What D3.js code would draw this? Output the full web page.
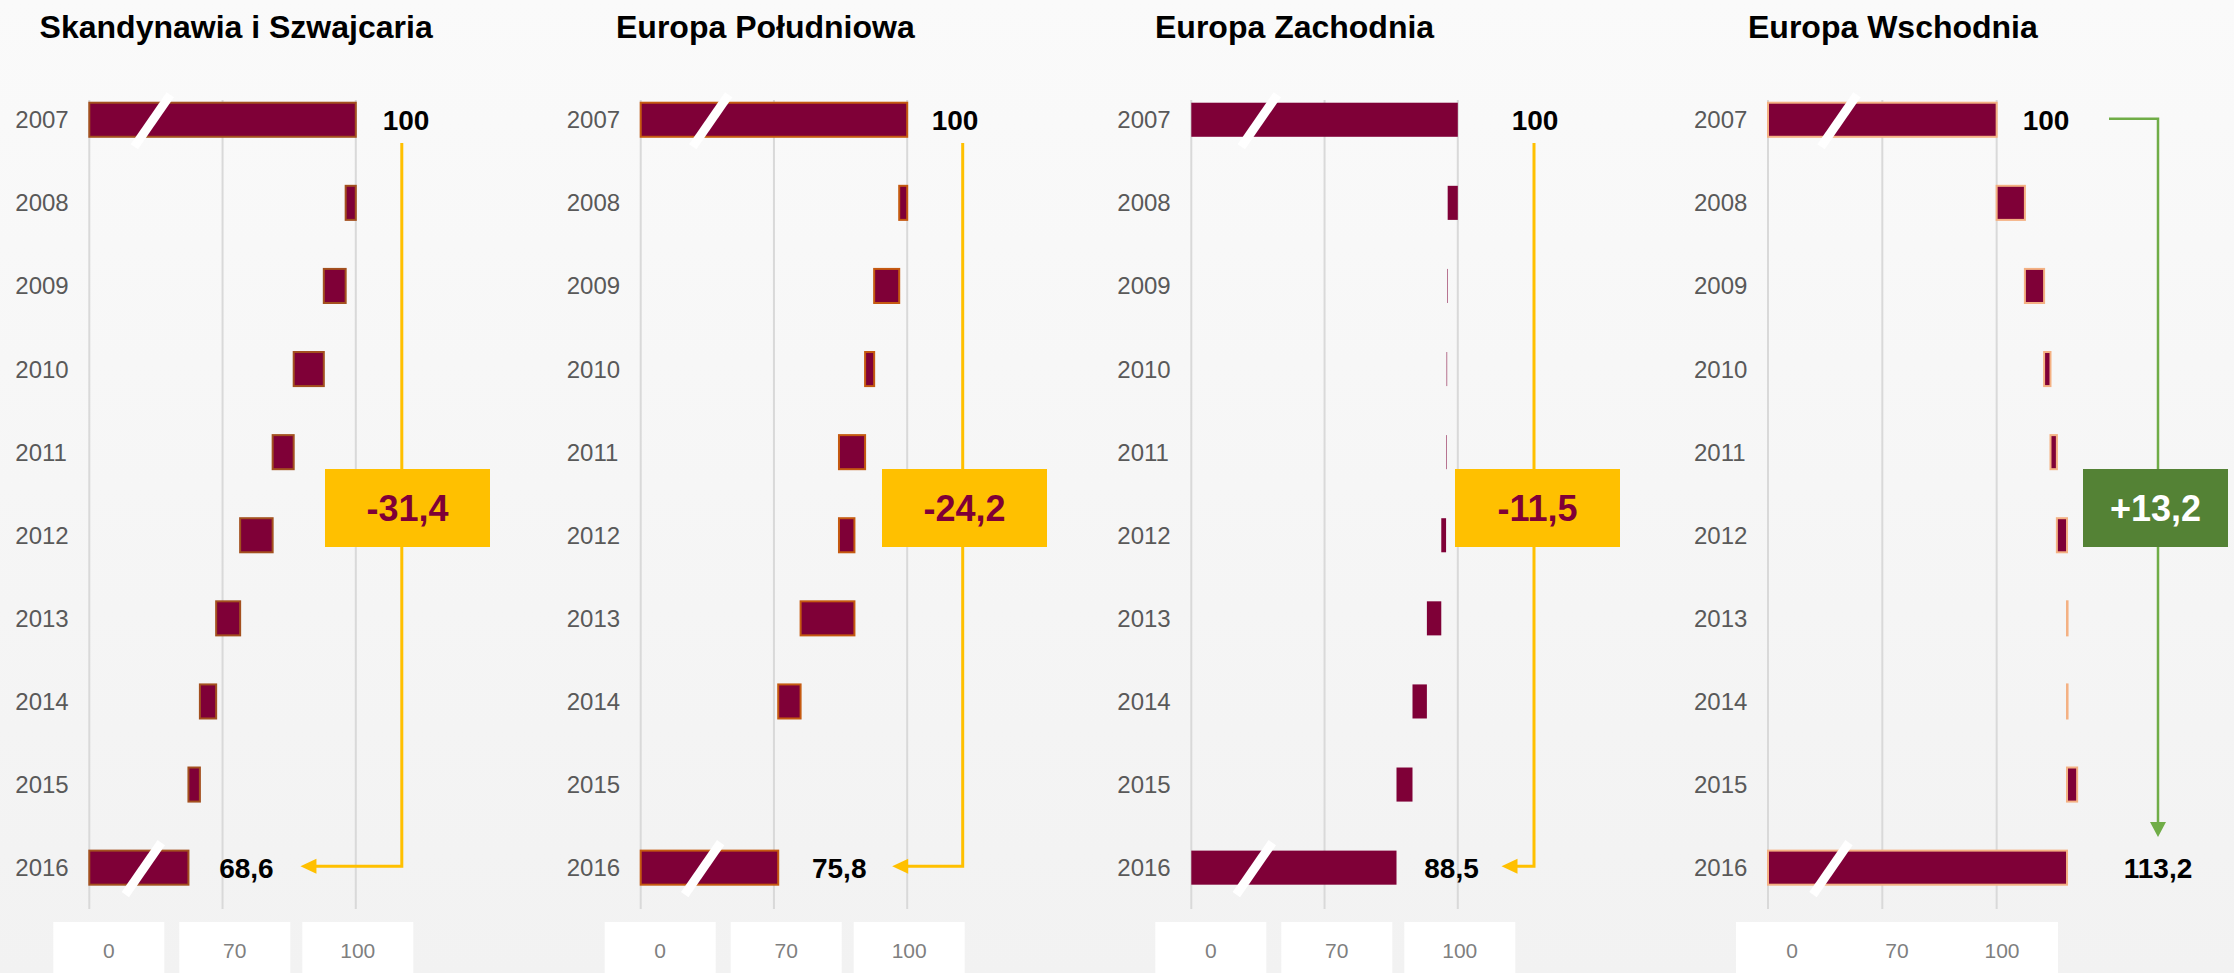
<!DOCTYPE html>
<html>
<head>
<meta charset="utf-8">
<script src="https://cdn.jsdelivr.net/npm/d3@7"></script>
<style>
  html, body { margin: 0; padding: 0; }
  body { width: 2234px; height: 973px; overflow: hidden; }
  svg { display: block; font-family: 'Liberation Sans', Arial, sans-serif; }
</style>
</head>
<body>
<svg id="chart" width="2234" height="973"></svg>
<script>
// index levels, 2007 = 100; last entry is the 2016 total bar
const years = ['2007', '2008', '2009', '2010', '2011', '2012', '2013', '2014', '2015', '2016']
const regions = ['Skandynawia i Szwajcaria', 'Europa Południowa', 'Europa Zachodnia', 'Europa Wschodnia']
const skandynawiaSzwajcaria = [100, 98.1, 94.0, 88.35, 84.4, 78.3, 73.8, 70.75, 68.6, 68.6]
const europaPoludniowa = [100, 98.5, 93.8, 92.1, 87.2, 90.1, 80.0, 75.8, 75.8, 75.8]
const europaZachodnia = [100, 98.1, 98.0, 97.9, 97.8, 96.9, 94.2, 91.5, 88.5, 88.5]
const europaWschodnia = [100, 105.3, 108.9, 110.1, 111.3, 113.2, 113.3, 113.2, 115.1, 113.2]
const tickLabels = ['0', '70', '100']

const maroon = '#7f0037'
const yellow = '#ffc000'
const pxPerUnit = 5.33

const pl = d3.formatLocale({ decimal: ',', thousands: ' ', grouping: [3], currency: ['', ' zł'], minus: '-' })
const fmtValue = pl.format('.1~f')
const fmtChange = v => (v > 0 ? '+' : '') + pl.format('.1f')(v)

// layout per panel (pixel positions only)
const panels = [
  { title: regions[0], values: skandynawiaSzwajcaria, x0: 89.3, axisMin: 50, titleX: 39.6,
    stroke: '#a3501f', color: yellow, lineX: 401.8, startLabelX: 406, boxCx: 407.5, boxW: 165,
    endLabelDx: 58, tipDx: 112, breaks: [63, 54], tickBoxes: [[-36, 111], [90, 111], [213, 111]], tickX: [19.5, 145.5, 268.5] },
  { title: regions[1], values: europaPoludniowa, x0: 640.7, axisMin: 50, titleX: 616,
    stroke: '#c55a11', color: yellow, lineX: 962.7, startLabelX: 955, boxCx: 964.5, boxW: 165,
    endLabelDx: 61, tipDx: 114, breaks: [70, 62], tickBoxes: [[-36, 111], [90, 111], [213, 111]], tickX: [19.5, 145.5, 268.5] },
  { title: regions[2], values: europaZachodnia, x0: 1191.3, axisMin: 50, titleX: 1155,
    stroke: maroon, color: yellow, lineX: 1534, startLabelX: 1535, boxCx: 1537.5, boxW: 165,
    endLabelDx: 55, tipDx: 105, breaks: [68, 63], tickBoxes: [[-36, 111], [90, 111], [213, 111]], tickX: [19.5, 145.5, 268.5] },
  { title: regions[3], values: europaWschodnia, x0: 1768, axisMin: 57.1, titleX: 1748,
    stroke: '#f4b183', color: '#70ad47', boxColor: '#548235', lineX: 2158, startLabelX: 2046, boxCx: 2155.5, boxW: 145,
    breaks: [71, 63], tickBoxes: [[-32, 322]], tickX: [24, 129, 234], down: true },
]

const svg = d3.select('#chart')

const grad = svg.append('defs').append('linearGradient')
  .attr('id', 'bg').attr('x1', 0).attr('y1', 0).attr('x2', 0).attr('y2', 1)
grad.append('stop').attr('offset', 0).attr('stop-color', '#fafafa')
grad.append('stop').attr('offset', 1).attr('stop-color', '#f2f2f2')
svg.append('rect').attr('width', 2234).attr('height', 973).attr('fill', 'url(#bg)')

const y = d3.scaleBand()
  .domain(years)
  .range([78.2, 909.2])
  .paddingInner(0.59)
  .paddingOuter(0.295)
const cy = yr => y(yr) + y.bandwidth() / 2

panels.forEach(p => {
  const { values, axisMin, x0 } = p
  const x = d3.scaleLinear()
    .domain([axisMin, 100])
    .range([x0, x0 + (100 - axisMin) * pxPerUnit])
  const g = svg.append('g')
  const last = values.length - 1

  g.append('text')
    .attr('x', p.titleX).attr('y', 38)
    .attr('font-size', 32).attr('font-weight', 'bold').attr('fill', '#000')
    .text(p.title)

  // gridlines
  g.selectAll('.grid')
    .data(x.ticks ? [axisMin, (axisMin + 100) / 2, 100] : [])
    .enter().append('line')
    .attr('x1', d => x(d)).attr('x2', d => x(d))
    .attr('y1', 100).attr('y2', 909)
    .attr('stroke', '#d9d9d9').attr('stroke-width', 2)

  // year labels
  g.selectAll('.year')
    .data(years)
    .enter().append('text')
    .attr('x', x0 - 74).attr('y', d => cy(d) + 8.5)
    .attr('font-size', 24).attr('fill', '#595959')
    .text(d => d)

  // waterfall bars
  const bars = values.map((v, i) => {
    const total = i === 0 || i === last
    const lo = total ? axisMin : Math.min(values[i - 1], v)
    const hi = total ? v : Math.max(values[i - 1], v)
    return { year: years[i], lo, hi }
  }).filter(d => d.hi - d.lo > 0.01)

  g.selectAll('.bar')
    .data(bars)
    .enter().append('rect')
    .attr('x', d => x(d.lo))
    .attr('width', d => x(d.hi) - x(d.lo))
    .attr('y', d => y(d.year))
    .attr('height', y.bandwidth())
    .attr('fill', maroon)
    .attr('stroke', p.stroke)
    .attr('stroke-width', p.stroke === maroon ? 0 : 2)

  // axis break marks on the total bars
  ;[[years[0], p.breaks[0]], [years[last], p.breaks[1]]].forEach(([yr, dx]) => {
    const c = cy(yr) + 1
    g.append('line')
      .attr('x1', x0 + dx - 18).attr('y1', c + 26)
      .attr('x2', x0 + dx + 18).attr('y2', c - 26)
      .attr('stroke', '#fff').attr('stroke-width', 9)
  })

  // start / end value labels
  g.append('text')
    .attr('x', p.startLabelX).attr('y', cy(years[0]) + 10)
    .attr('text-anchor', 'middle').attr('font-size', 28).attr('font-weight', 'bold')
    .text(fmtValue(values[0]))

  const endY = cy(years[last])
  const endX = p.down ? p.lineX : x(values[last]) + p.endLabelDx
  g.append('text')
    .attr('x', endX).attr('y', endY + 10)
    .attr('text-anchor', 'middle').attr('font-size', 28).attr('font-weight', 'bold')
    .text(fmtValue(values[last]))

  // callout arrow
  if (p.down) {
    const tipY = 837
    g.append('path')
      .attr('d', `M2109,${cy(years[0]) - 1}H${p.lineX}V${tipY - 14}`)
      .attr('fill', 'none').attr('stroke', p.color).attr('stroke-width', 2.5)
    g.append('path')
      .attr('d', `M${p.lineX - 8},${tipY - 15}L${p.lineX + 8},${tipY - 15}L${p.lineX},${tipY}Z`)
      .attr('fill', p.color)
  } else {
    const tipX = x(values[last]) + p.tipDx
    const ay = endY - 1.5
    g.append('path')
      .attr('d', `M${p.lineX},143V${ay}H${tipX + 14}`)
      .attr('fill', 'none').attr('stroke', p.color).attr('stroke-width', 3)
    g.append('path')
      .attr('d', `M${tipX},${ay}L${tipX + 16},${ay - 7.5}L${tipX + 16},${ay + 7.5}Z`)
      .attr('fill', p.color)
  }

  // change box
  g.append('rect')
    .attr('x', p.boxCx - p.boxW / 2).attr('y', 469)
    .attr('width', p.boxW).attr('height', 78)
    .attr('fill', p.boxColor || p.color)
  g.append('text')
    .attr('x', p.boxCx).attr('y', 521)
    .attr('text-anchor', 'middle').attr('font-size', 36).attr('font-weight', 'bold')
    .attr('fill', p.down ? '#fff' : maroon)
    .text(fmtChange(values[last] - values[0]))

  // tick label boxes
  g.selectAll('.tickbox')
    .data(p.tickBoxes)
    .enter().append('rect')
    .attr('x', d => x0 + d[0]).attr('y', 922)
    .attr('width', d => d[1]).attr('height', 60)
    .attr('fill', '#fff')
  g.selectAll('.ticklabel')
    .data(tickLabels)
    .enter().append('text')
    .attr('x', (d, i) => x0 + p.tickX[i]).attr('y', 957.5)
    .attr('text-anchor', 'middle').attr('font-size', 21).attr('fill', '#7f7f7f')
    .text(d => d)
})
</script>
</body>
</html>
